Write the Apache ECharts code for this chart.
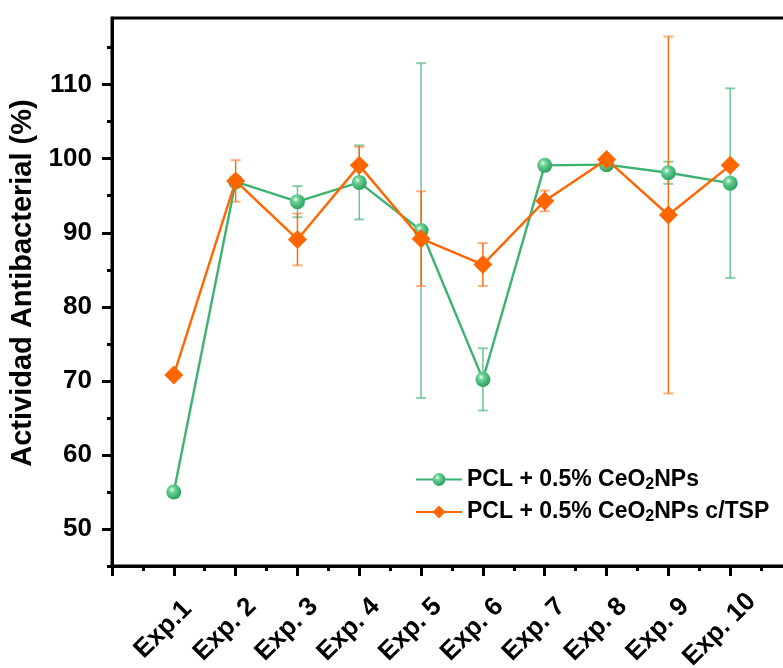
<!DOCTYPE html>
<html>
<head>
<meta charset="utf-8">
<script src="https://cdn.jsdelivr.net/npm/echarts@6/dist/echarts.min.js"></script>
<style>
html,body{margin:0;padding:0;background:#fff;}
#chart{width:783px;height:668px;}
</style>
</head>
<body>
<div id="chart"></div>
<script>
var categories = ['Exp.1', 'Exp. 2', 'Exp. 3', 'Exp. 4', 'Exp. 5', 'Exp. 6', 'Exp. 7', 'Exp. 8', 'Exp. 9', 'Exp. 10'];
var seriesNames = ['PCL + 0.5% CeO2NPs', 'PCL + 0.5% CeO2NPs c/TSP'];
var greenValues = [55.0, 96.9, 94.2, 96.8, 90.3, 70.2, 99.1, 99.2, 98.1, 96.7];
var greenSD = [0, 0.5, 2.1, 5.0, 22.6, 4.2, 0.5, 0.5, 1.5, 12.8];
var orangeValues = [70.8, 97.0, 89.1, 99.1, 89.2, 85.7, 94.3, 99.9, 92.4, 99.1];
var orangeSD = [0, 2.8, 3.5, 2.5, 6.4, 2.9, 1.4, 0.3, 24.1, 0.3];
var yMajorTicks = [50, 60, 70, 80, 90, 100, 110];
var yMinorTicks = [45, 55, 65, 75, 85, 95, 105, 115];

var GREEN = '#3CB371';
var ORANGE = '#FF6600';
var FONT = '"Liberation Sans", Arial, sans-serif';

function pts(vals) { return vals.map(function (v, i) { return [i + 1, v]; }); }
function errData(vals, sd) {
  var out = [];
  vals.forEach(function (v, i) { if (sd[i] > 0) out.push([i + 1, v - sd[i], v + sd[i]]); });
  return out;
}
function errRender(lineColor, capColor) {
  return function (params, api) {
    var x = api.value(0);
    var lo = api.coord([x, api.value(1)]);
    var hi = api.coord([x, api.value(2)]);
    var w = 5;
    return {
      type: 'group',
      children: [
        { type: 'line', shape: { x1: lo[0], y1: lo[1], x2: hi[0], y2: hi[1] }, style: { stroke: lineColor, lineWidth: 1.5 } },
        { type: 'line', shape: { x1: lo[0] - w, y1: lo[1], x2: lo[0] + w, y2: lo[1] }, style: { stroke: capColor, lineWidth: 2 } },
        { type: 'line', shape: { x1: hi[0] - w, y1: hi[1], x2: hi[0] + w, y2: hi[1] }, style: { stroke: capColor, lineWidth: 2 } }
      ]
    };
  };
}

var sphere = {
  type: 'radial', x: 0.38, y: 0.35, r: 0.75,
  colorStops: [
    { offset: 0, color: '#f4fff8' },
    { offset: 0.25, color: '#6fd39a' },
    { offset: 0.7, color: '#3aae6b' },
    { offset: 1, color: '#2c9a5a' }
  ]
};

var gridRect = { left: 112, top: 18, width: 680, height: 548 };

var chart = echarts.init(document.getElementById('chart'), null, { renderer: 'canvas' });
chart.setOption({
  backgroundColor: '#fff',
  animation: false,
  grid: [
    Object.assign({ show: true, borderColor: '#000', borderWidth: 3, containLabel: false, outerBoundsMode: 'none' }, gridRect),
    Object.assign({ show: false, containLabel: false, outerBoundsMode: 'none' }, gridRect)
  ],
  legend: {
    orient: 'vertical',
    left: 410,
    top: 463,
    itemWidth: 46,
    itemHeight: 16,
    itemGap: 8,
    data: seriesNames,
    formatter: function (name) { return name.replace('CeO2', 'CeO{sub|2}'); },
    textStyle: {
      fontFamily: FONT, fontSize: 23, fontWeight: 'bold', color: '#000',
      rich: {
        sub: { fontFamily: FONT, fontSize: 16, fontWeight: 'bold', color: '#000', padding: [10, 0, 0, 0] }
      }
    }
  },
  xAxis: [
    {
      type: 'value', gridIndex: 0, min: 0, max: 11, interval: 1,
      axisLine: { show: true, onZero: false, lineStyle: { color: '#000', width: 3 } },
      axisTick: { show: true, length: 10, lineStyle: { color: '#000', width: 3 } },
      minorTick: { show: true, splitNumber: 2, length: 5, lineStyle: { color: '#000', width: 3 } },
      splitLine: { show: false },
      axisLabel: {
        show: true, rotate: 45, align: 'center', margin: 53,
        formatter: function (v) {
          if (v >= 1 && v <= categories.length) return '{a|' + categories[v - 1] + '}';
          return '';
        },
        rich: {
          a: { fontFamily: FONT, fontSize: 26, fontWeight: 'bold', color: '#000', padding: [0, 30, 0, 0] }
        }
      }
    },
    { type: 'value', gridIndex: 1, min: 0, max: 11, show: false }
  ],
  yAxis: [
    {
      type: 'value', gridIndex: 0, min: 45, max: 119,
      name: 'Actividad Antibacterial (%)',
      nameLocation: 'middle', nameGap: 62, nameRotate: 90,
      nameTextStyle: { fontFamily: FONT, fontSize: 29, fontWeight: 'bold', color: '#000', padding: [0, 0, 0, 18] },
      axisLine: { show: true, onZero: false, lineStyle: { color: '#000', width: 3 } },
      axisTick: { show: true, length: 10, customValues: yMajorTicks, lineStyle: { color: '#000', width: 3 } },
      axisLabel: { show: true, customValues: yMajorTicks, margin: 20, fontFamily: FONT, fontSize: 26, fontWeight: 'bold', color: '#000' },
      splitLine: { show: false }
    },
    {
      type: 'value', gridIndex: 1, min: 45, max: 119,
      axisLine: { show: false },
      axisTick: { show: true, length: 5, customValues: yMinorTicks, lineStyle: { color: '#000', width: 3 } },
      axisLabel: { show: false },
      splitLine: { show: false }
    }
  ],
  series: [
    {
      type: 'custom', name: 'errG', xAxisIndex: 0, yAxisIndex: 0, z: 1,
      renderItem: errRender('rgba(60,179,113,0.75)', 'rgba(60,179,113,0.6)'),
      encode: { x: 0, y: [1, 2] },
      data: errData(greenValues, greenSD)
    },
    {
      type: 'custom', name: 'errO', xAxisIndex: 0, yAxisIndex: 0, z: 1,
      renderItem: errRender('rgba(255,102,0,0.95)', 'rgba(255,120,40,0.6)'),
      encode: { x: 0, y: [1, 2] },
      data: errData(orangeValues, orangeSD)
    },
    {
      type: 'line', name: seriesNames[0], xAxisIndex: 0, yAxisIndex: 0, z: 3,
      data: pts(greenValues),
      symbol: 'circle', symbolSize: 15,
      lineStyle: { color: GREEN, width: 2.4 },
      itemStyle: { color: sphere, borderWidth: 0 }
    },
    {
      type: 'line', name: seriesNames[1], xAxisIndex: 0, yAxisIndex: 0, z: 4,
      data: pts(orangeValues),
      symbol: 'diamond', symbolSize: 19,
      lineStyle: { color: ORANGE, width: 2.4 },
      itemStyle: { color: ORANGE, borderWidth: 0 }
    }
  ]
});
</script>
</body>
</html>
